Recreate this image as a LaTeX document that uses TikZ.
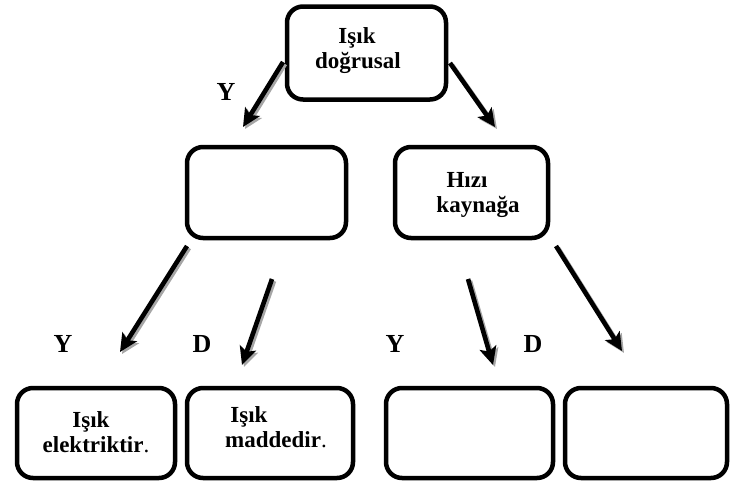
\documentclass[tikz,border=0pt]{standalone}
\usepackage{fontspec}
\setmainfont{Liberation Serif}
\usetikzlibrary{arrows.meta}
\begin{document}
\begin{tikzpicture}[x=1pt,y=-1pt,
  box/.style={draw=black, line width=4.5pt, rounded corners=16pt, inner sep=0pt},
  arr/.style={draw=black, line width=4.6pt, -{Stealth[length=18pt,width=17pt,inset=4pt]}},
  arrshadow/.style={arr, draw=black!35, transform canvas={xshift=2pt,yshift=-2pt}},
  txt/.style={font=\fontsize{23}{27}\selectfont\bfseries, anchor=base, inner sep=0pt},
  lbl/.style={font=\fontsize{26}{30}\selectfont\bfseries, anchor=base, inner sep=0pt}]
\useasboundingbox (0,0) rectangle (731,482);
% boxes
\node[box, minimum width=159pt, minimum height=93pt] (top) at (366.5,53) {};
\node[box, minimum width=159pt, minimum height=91pt] (midL) at (266.5,192.5) {};
\node[box, minimum width=153pt, minimum height=91pt] (midR) at (471.5,192.5) {};
\node[box, minimum width=158pt, minimum height=90pt] (b1) at (96,433) {};
\node[box, minimum width=166pt, minimum height=90pt] (b2) at (270,433) {};
\node[box, minimum width=167pt, minimum height=90pt] (b3) at (469.5,433) {};
\node[box, minimum width=162pt, minimum height=90pt] (b4) at (646,433) {};
% texts
\node[txt] (topa) at (357,43) {Işık};
\node[txt] (topb) at (358,68) {doğrusal};
\node[txt] (mra) at (467,187) {Hızı};
\node[txt] (mrb) at (478,212) {kaynağa};
\node[txt] (b1a) at (91,427) {Işık};
\node[txt] (b1b) at (96,452) {elektriktir\textmd{.}};
\node[txt] (b2a) at (249,422) {Işık};
\node[txt] (b2b) at (276,447) {maddedir\textmd{.}};
% labels
\node[lbl] (l0) at (226,100) {Y};
\node[lbl] (l1) at (63,352) {Y};
\node[lbl] (l2) at (202,352) {D};
\node[lbl] (l3) at (395,352) {Y};
\node[lbl] (l4) at (533,352) {D};
% arrow coordinates
\coordinate (t1s) at (283,62);  \coordinate (t1e) at (243,127);
\coordinate (t2s) at (450,63);  \coordinate (t2e) at (495,127);
\coordinate (a1s) at (187,246); \coordinate (a1e) at (120,352);
\coordinate (a2s) at (272,279); \coordinate (a2e) at (242,365);
\coordinate (a3s) at (468,279); \coordinate (a3e) at (493,365);
\coordinate (a4s) at (556,246); \coordinate (a4e) at (622,351);
% shadows
\draw[arrshadow] (t1s) -- (t1e);
\draw[arrshadow] (t2s) -- (t2e);
\draw[arrshadow] (a1s) -- (a1e);
\draw[arrshadow] (a2s) -- (a2e);
\draw[arrshadow] (a3s) -- (a3e);
\draw[arrshadow] (a4s) -- (a4e);
% arrows
\draw[arr] (t1s) -- (t1e);
\draw[arr] (t2s) -- (t2e);
\draw[arr] (a1s) -- (a1e);
\draw[arr] (a2s) -- (a2e);
\draw[arr] (a3s) -- (a3e);
\draw[arr] (a4s) -- (a4e);
\end{tikzpicture}
\end{document}
